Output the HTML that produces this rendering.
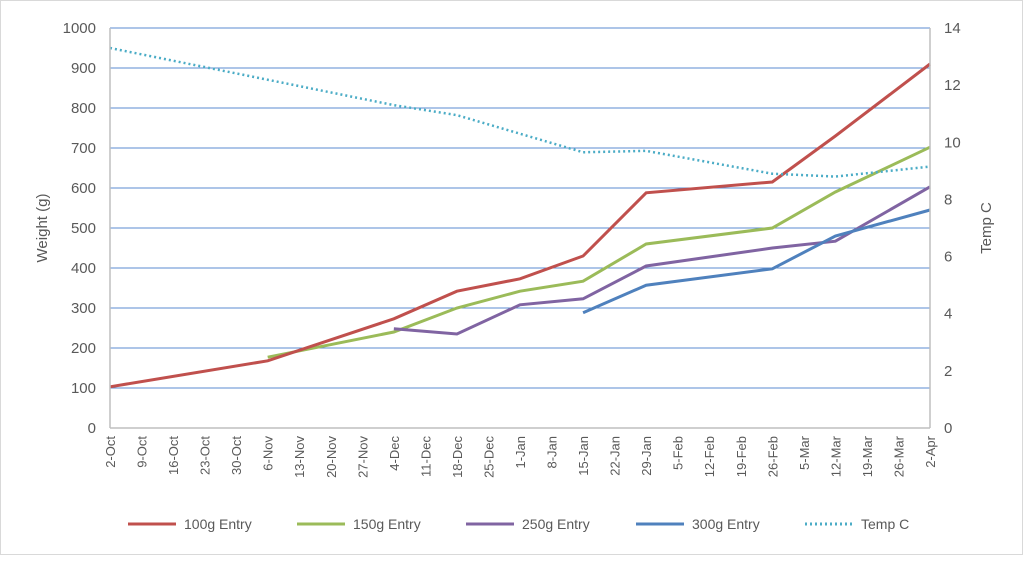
<!DOCTYPE html>
<html><head><meta charset="utf-8"><style>
body{margin:0;background:#fff;font-family:"Liberation Sans",sans-serif}
svg text{font-family:"Liberation Sans",sans-serif;fill:#595959}
</style></head><body>
<svg width="1024" height="556" xmlns="http://www.w3.org/2000/svg">
<rect x="0.5" y="0.5" width="1022" height="554" fill="#fff" stroke="#d9d9d9"/>
<g id="grid"></g><g id="series"></g><g id="axes"></g>
<text x="0" y="0" transform="translate(47,228) rotate(-90)" text-anchor="middle" font-size="15">Weight (g)</text>
<text x="0" y="0" transform="translate(991,228) rotate(-90)" text-anchor="middle" font-size="15">Temp C</text>
<g id="legend"></g>
</svg>
<script>
const categories=["2-Oct","9-Oct","16-Oct","23-Oct","30-Oct","6-Nov","13-Nov","20-Nov","27-Nov","4-Dec","11-Dec","18-Dec","25-Dec","1-Jan","8-Jan","15-Jan","22-Jan","29-Jan","5-Feb","12-Feb","19-Feb","26-Feb","5-Mar","12-Mar","19-Mar","26-Mar","2-Apr"];
const weightTicks=[0,100,200,300,400,500,600,700,800,900,1000];
const tempTicks=[0,2,4,6,8,10,12,14];
const s100=[[0,103],[5,168],[9,273],[11,342],[13,373],[15,430],[17,588],[21,615],[23,730],[26,910]];
const s150=[[5,177],[9,240],[11,300],[13,342],[15,367],[17,460],[21,500],[23,590],[26,702]];
const s250=[[9,248],[11,235],[13,308],[15,323],[17,405],[21,450],[23,467],[26,603]];
const s300=[[15,288],[17,357],[21,398],[23,480],[26,545]];
const temp=[[0,13.3],[9,11.3],[11,10.95],[15,9.65],[17,9.7],[21,8.9],[23,8.8],[26,9.15]];
const NS="http://www.w3.org/2000/svg";
const X0=110,X1=930,Y0=428,Y1=28;
const x=i=>X0+i*(X1-X0)/(categories.length-1);
const y=v=>Y0-v*(Y0-Y1)/1000;
const y2=v=>Y0-v*(Y0-Y1)/14;
function mk(t,a,p){const e=document.createElementNS(NS,t);for(const k in a)e.setAttribute(k,a[k]);p.appendChild(e);return e;}
const grid=document.getElementById('grid'),axes=document.getElementById('axes'),ser=document.getElementById('series'),leg=document.getElementById('legend');
weightTicks.forEach(v=>{
 if(v>0){const l=mk('line',{x1:X0,x2:X1,y1:y(v),y2:y(v),stroke:'#5b8bd0','stroke-width':0.9},grid);
 
 }
 const t=mk('text',{x:96,y:y(v)+5,'text-anchor':'end','font-size':15},axes);t.textContent=v;
 
 
});
tempTicks.forEach(v=>{
 const t=mk('text',{x:944,y:y2(v)+5,'font-size':15},axes);t.textContent=v;
 
 
});
mk('line',{x1:X0,x2:X1,y1:Y0,y2:Y0,stroke:'#bfbfbf','stroke-width':1.5},axes);
mk('line',{x1:X0,x2:X0,y1:Y1,y2:Y0,stroke:'#bfbfbf','stroke-width':1.5},axes);
mk('line',{x1:X1,x2:X1,y1:Y1,y2:Y0,stroke:'#bfbfbf','stroke-width':1.5},axes);
categories.forEach((c,i)=>{
 const t=mk('text',{transform:`translate(${x(i)+5},436) rotate(-90)`,'text-anchor':'end','font-size':13},axes);t.textContent=c;
 
 
});
function line(d,f,col,dash,name){
 const p=mk('polyline',{points:d.map(q=>x(q[0])+','+f(q[1])).join(' '),fill:'none',stroke:col,'stroke-width':dash?2.5:3,'stroke-dasharray':dash||'none'},ser);
 
 
}
line(s150,y,'#9bbb59',null,'series-150g');
line(s250,y,'#8064a2',null,'series-250g');
line(s300,y,'#4f81bd',null,'series-300g');
line(s100,y,'#c0504d',null,'series-100g');
line(temp,y2,'#4bacc6','2,3','series-temp');
const L=[["100g Entry",'#c0504d',null,128],["150g Entry",'#9bbb59',null,297],["250g Entry",'#8064a2',null,466],["300g Entry",'#4f81bd',null,636],["Temp C",'#4bacc6','2,3',805]];
L.forEach(e=>{
 const g=mk('g',{},leg);
 
 
 mk('line',{x1:e[3],x2:e[3]+48,y1:524,y2:524,stroke:e[1],'stroke-width':3,'stroke-dasharray':e[2]||'none'},g);
 const t=mk('text',{x:e[3]+56,y:529,'font-size':14},g);t.textContent=e[0];
});
</script>
</body></html>
